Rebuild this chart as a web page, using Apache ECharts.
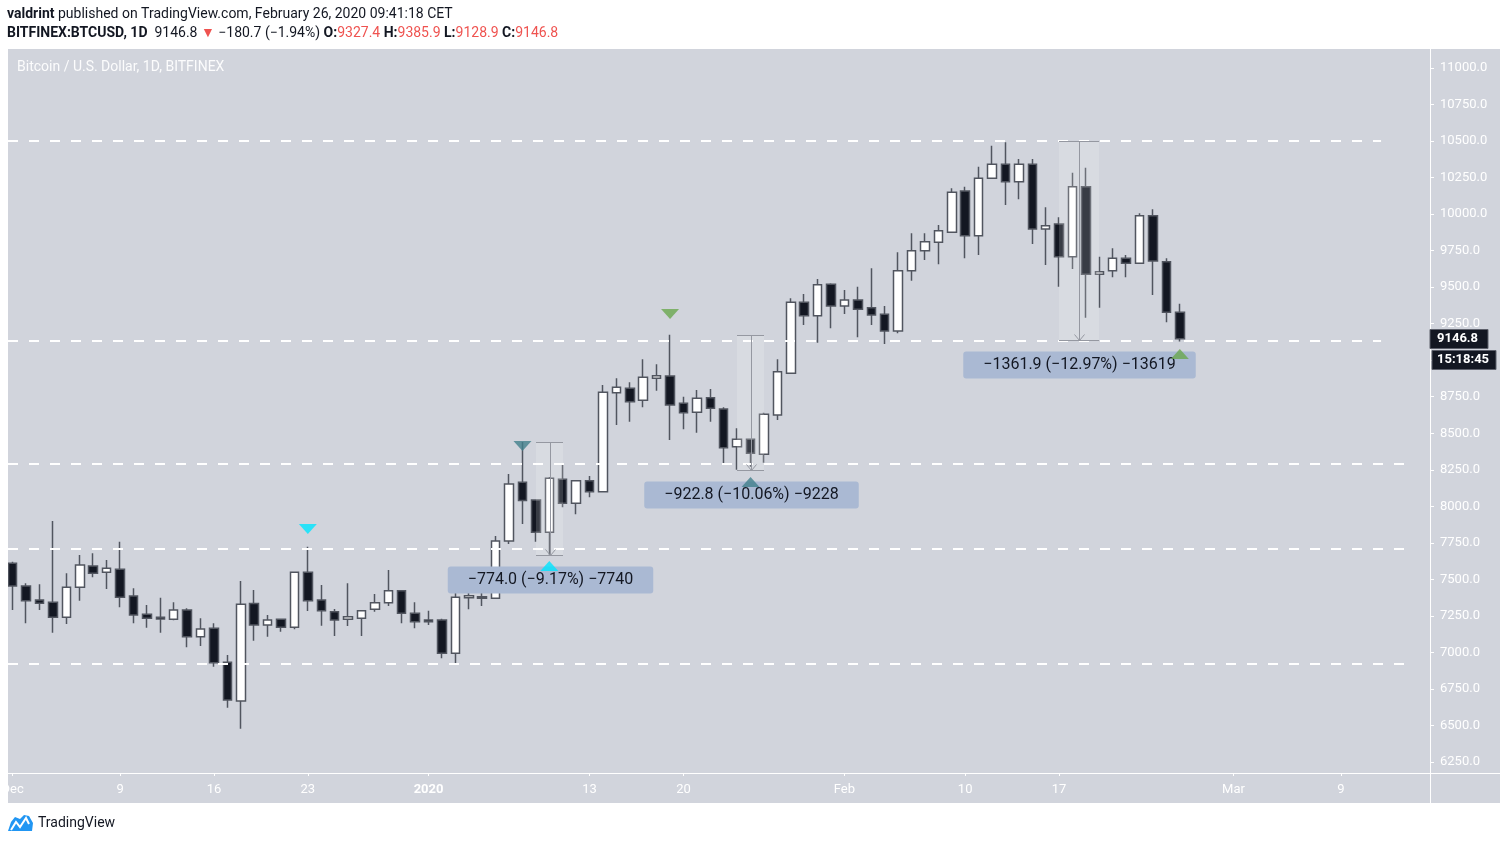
<!DOCTYPE html>
<html>
<head>
<meta charset="utf-8">
<title>BTCUSD 1D</title>
<script src="https://cdn.jsdelivr.net/npm/echarts@6/dist/echarts.min.js"></script>
<style>
  html, body { margin: 0; padding: 0; background: #ffffff; }
  #chart { width: 1508px; height: 844px; }
</style>
</head>
<body>
<div id="chart"></div>
<script>
// BITFINEX:BTCUSD daily candles, 1 Dec 2019 .. 26 Feb 2020
const startDay = Date.UTC(2019, 11, 1);
const axisDays = 106; // time scale runs on past the last candle

const opens = [
  7610, 7455, 7359, 7343, 7240, 7446, 7592, 7548, 7569, 7386, 7261, 7240, 7227, 7290, 7108, 7165,
  6932, 6668, 7334, 7188, 7227, 7172, 7548, 7359, 7279, 7227, 7234, 7295, 7340, 7422, 7268,
  7222, 7222, 6994, 7375, 7381, 7370, 7763, 8164, 8043, 7822, 8185, 8021, 8175, 8100, 8778, 8808,
  8726, 8876, 8892, 8705, 8644, 8743, 8666, 8408, 8459, 8356, 8625, 8910, 9396, 9305, 9520,
  9371, 9412, 9359, 9314, 9200, 9613, 9750, 9807, 9876, 10158, 9852, 10245, 10341, 10222, 10341,
  9898, 9932, 9708, 10188, 9588, 9613, 9698, 9663, 9989, 9674, 9327.4
];
const highs = [
  7620, 7473, 7466, 7900, 7542, 7667, 7678, 7633, 7758, 7439, 7325, 7375, 7343, 7302, 7234, 7199,
  6982, 7489, 7427, 7256, 7232, 7552, 7724, 7461, 7297, 7473, 7290, 7400, 7564, 7425, 7343,
  7286, 7230, 7450, 7427, 7507, 7797, 8221, 8440, 8045, 8200, 8283, 8180, 8208, 8830, 8876, 8849,
  9006, 8972, 9174, 8750, 8796, 8803, 8678, 8534, 8462, 8641, 9006, 9424, 9453, 9556, 9526,
  9481, 9503, 9629, 9371, 9739, 9869, 9869, 9925, 10177, 10188, 10324, 10468, 10491, 10377, 10377,
  10047, 9978, 10283, 10318, 9708, 9766, 9720, 10005, 10033, 9698, 9385.9
];
const lows = [
  7290, 7199, 7290, 7135, 7195, 7354, 7514, 7434, 7309, 7199, 7169, 7135, 7220, 7035, 7044, 6902,
  6622, 6478, 7080, 7108, 7142, 7158, 7284, 7183, 7112, 7181, 7112, 7279, 7318, 7199, 7165,
  7188, 6960, 6914, 7295, 7318, 7368, 7742, 7879, 7758, 7666, 7993, 7945, 8062, 8100, 8557, 8579,
  8678, 8791, 8454, 8527, 8504, 8579, 8294, 8251, 8271, 8299, 8591, 8905, 9241, 9120, 9218,
  9316, 9157, 9241, 9111, 9184, 9544, 9686, 9656, 9870, 9698, 9720, 10240, 10062, 10101, 9795,
  9652, 9503, 9624, 9291, 9359, 9567, 9567, 9660, 9446, 9260, 9128.9
];
const closes = [
  7455, 7354, 7336, 7240, 7446, 7598, 7542, 7576, 7377, 7256, 7234, 7229, 7290, 7108, 7160, 6930,
  6674, 7329, 7188, 7222, 7172, 7548, 7354, 7286, 7222, 7245, 7286, 7340, 7422, 7268, 7210,
  7210, 6994, 7377, 7388, 7370, 7763, 8153, 8039, 7822, 8192, 8021, 8175, 8100, 8780, 8815, 8716,
  8883, 8894, 8693, 8641, 8739, 8671, 8401, 8459, 8363, 8630, 8921, 9396, 9305, 9517, 9371,
  9412, 9348, 9310, 9200, 9613, 9750, 9811, 9886, 10149, 9852, 10245, 10341, 10222, 10341, 9898,
  9921, 9708, 10188, 9588, 9606, 9698, 9663, 9989, 9679, 9327.5, 9146.8
];

// time scale labels
const tickDates = ['2019-12-01', '2019-12-09', '2019-12-16', '2019-12-23', '2020-01-01', '2020-01-13',
  '2020-01-20', '2020-02-01', '2020-02-10', '2020-02-17', '2020-03-01', '2020-03-09'];
const tickLabels = ['Dec', '9', '16', '23', '2020', '13', '20', 'Feb', '10', '17', 'Mar', '9'];
const priceTicks = [6250, 6500, 6750, 7000, 7250, 7500, 7750, 8000, 8250, 8500, 8750, 9000,
  9250, 9500, 9750, 10000, 10250, 10500, 10750, 11000];

// dashed horizontal levels and the day each one stops at
const levelPrices = [10500, 9130, 8287, 7708, 6921];
const levelEnds = ['2020-03-12', '2020-03-12', '2020-03-14', '2020-03-14', '2020-03-14'];

// price range tools
const rangeFrom = ['2020-01-09', '2020-01-24', '2020-02-17'];
const rangeTo = ['2020-01-11', '2020-01-26', '2020-02-20'];
const rangeTop = [8440, 9174, 10500];
const rangeBottom = [7666, 8251.2, 9138.1];

// arrow markers
const markerDates = ['2019-12-23', '2020-01-08', '2020-01-19', '2020-01-10', '2020-01-25', '2020-02-26'];
const markerPrices = [7845, 8413, 9316, 7592, 8166, 9043];
const markerDown = [true, true, true, false, false, false];
const markerColors = ['#00e5ff', '#41808c', '#6aa84f', '#00e5ff', '#41808c', '#6aa84f'];

const FONT = 'Roboto, "Noto Sans", sans-serif';
const MINUS = '\u2212';

const days = [];
for (let i = 0; i < axisDays; i++) {
  days.push(new Date(startDay + i * 86400000).toISOString().slice(0, 10));
}
const dayIndex = (d) => days.indexOf(d);

const candles = opens.map((o, i) => [o, closes[i], lows[i], highs[i]]);

const chart = echarts.init(document.getElementById('chart'), null, { renderer: 'canvas' });

chart.setOption({
  animation: false,
  backgroundColor: '#ffffff',
  grid: { left: 6, right: 80, top: 31.47, bottom: 45.47, outerBoundsMode: 'none' },
  xAxis: {
    type: 'category',
    data: days,
    boundaryGap: true,
    offset: -25.5,
    axisLine: { show: false },
    axisTick: {
      show: true, alignWithLabel: true, length: 3,
      interval: (i, v) => tickDates.includes(v),
      lineStyle: { color: '#ffffff' }
    },
    axisLabel: {
      interval: (i, v) => tickDates.includes(v),
      formatter: (v) => {
        const s = tickLabels[tickDates.indexOf(v)];
        return s === '2020' ? '{b|2020}' : s;
      },
      color: '#ffffff', fontSize: 13, fontFamily: FONT, margin: 10,
      rich: { b: { fontWeight: 'bold', color: '#ffffff', fontSize: 13, fontFamily: FONT } }
    },
    splitLine: { show: false }
  },
  yAxis: {
    type: 'value',
    position: 'right',
    offset: 2,
    min: 6000,
    max: 11250,
    axisLine: { show: false },
    axisTick: { show: true, length: 4, customValues: priceTicks, lineStyle: { color: '#ffffff' } },
    axisLabel: {
      customValues: priceTicks,
      formatter: (v) => v.toFixed(1),
      color: '#ffffff', fontSize: 13, fontFamily: FONT, margin: 10
    },
    splitLine: { show: false }
  },
  series: [
    {
      type: 'candlestick',
      data: candles,
      barWidth: 9,
      z: 3,
      itemStyle: {
        color: '#ffffff',
        color0: '#131722',
        borderColor: '#51555f',
        borderColor0: '#51555f',
        borderWidth: 1.5
      }
    },
    {
      // dashed horizontal levels
      type: 'custom',
      z: 4,
      silent: true,
      data: levelPrices.map((p, i) => [dayIndex(levelEnds[i]), p]),
      encode: { x: 0, y: 1 },
      renderItem: (params, api) => {
        const p = api.coord([api.value(0), api.value(1)]);
        const y = Math.round(p[1]);
        return {
          type: 'line',
          shape: { x1: params.coordSys.x + 2, y1: y, x2: p[0], y2: y },
          style: { stroke: '#ffffff', lineWidth: 2, lineDash: [10, 11] }
        };
      }
    },
    {
      // price range measurements
      type: 'custom',
      z: 5,
      silent: true,
      clip: false,
      data: rangeTop.map((t, i) => [dayIndex(rangeFrom[i]), dayIndex(rangeTo[i]), t, rangeBottom[i]]),
      encode: { x: [0, 1], y: [2, 3] },
      renderItem: (params, api) => {
        const top = api.value(2), bottom = api.value(3);
        const a = api.coord([api.value(0), top]);
        const b = api.coord([api.value(1), bottom]);
        const x0 = Math.round(a[0]), x1 = Math.round(b[0]);
        const y0 = Math.round(a[1]) + 0.5, y1 = Math.round(b[1]) + 0.5;
        const xm = Math.round((x0 + x1) / 2) + 0.5;
        const diff = top - bottom;
        const label = MINUS + diff.toFixed(1) + ' (' + MINUS + (diff / top * 100).toFixed(2) + '%) ' +
          MINUS + Math.round(diff * 10);
        const grey = '#9598a1';
        return {
          type: 'group',
          children: [
            { type: 'rect', shape: { x: x0, y: y0, width: x1 - x0, height: y1 - y0 },
              style: { fill: 'rgba(255,255,255,0.16)' } },
            { type: 'line', shape: { x1: x0, y1: y0, x2: x1, y2: y0 }, style: { stroke: grey, lineWidth: 1 } },
            { type: 'line', shape: { x1: x0, y1: y1, x2: x1, y2: y1 }, style: { stroke: grey, lineWidth: 1 } },
            { type: 'line', shape: { x1: xm, y1: y0, x2: xm, y2: y1 }, style: { stroke: grey, lineWidth: 1 } },
            { type: 'polyline', shape: { points: [[xm - 5, y1 - 6], [xm, y1], [xm + 5, y1 - 6]] },
              style: { stroke: grey, lineWidth: 1, fill: null } },
            { type: 'text', x: xm, y: y1 + 11,
              style: {
                text: label, align: 'center', verticalAlign: 'top',
                font: '16px ' + FONT, fill: '#131722',
                backgroundColor: '#aab9d3', padding: [5, 20, 5, 20], borderRadius: 3, lineHeight: 17
              } }
          ]
        };
      }
    },
    {
      type: 'scatter',
      z: 6,
      silent: true,
      symbol: 'triangle',
      symbolSize: [18, 10],
      data: markerDates.map((d, i) => ({
        value: [d, markerPrices[i]],
        symbolRotate: markerDown[i] ? 180 : 0,
        itemStyle: { color: markerColors[i] }
      }))
    }
  ]
});

// chrome around the chart
const last = closes.length - 1;
const change = closes[last] - closes[last - 1];
const lastY = chart.convertToPixel({ yAxisIndex: 0 }, closes[last]);
const fmt = (v) => v.toFixed(1);
const red = '#ef5350';

chart.setOption({
  graphic: [
    { type: 'rect', z: -10, silent: true, shape: { x: 8, y: 49, width: 1492, height: 754 },
      style: { fill: '#d1d4dc' } },
    { type: 'line', z: 50, silent: true, shape: { x1: 1430.5, y1: 49, x2: 1430.5, y2: 803 },
      style: { stroke: '#ffffff', lineWidth: 1 } },
    { type: 'line', z: 50, silent: true, shape: { x1: 8, y1: 773.5, x2: 1500, y2: 773.5 },
      style: { stroke: '#ffffff', lineWidth: 1 } },
    { type: 'rect', z: 100, silent: true, shape: { x: 0, y: 49, width: 8, height: 760 },
      style: { fill: '#ffffff' } },
    { type: 'text', z: 50, silent: true, x: 17, y: 67,
      style: { text: 'Bitcoin / U.S. Dollar, 1D, BITFINEX', font: '14px ' + FONT,
        fill: 'rgba(255,255,255,0.92)', verticalAlign: 'middle' } },
    { type: 'text', z: 50, silent: true, x: 7, y: 14,
      style: {
        text: '{b|valdrint} published on TradingView.com, February 26, 2020 09:41:18 CET',
        font: '14px ' + FONT, fill: '#131722', verticalAlign: 'middle',
        rich: { b: { fontWeight: 'bold', fontSize: 14, fontFamily: FONT, fill: '#131722' } }
      } },
    { type: 'text', z: 50, silent: true, x: 7, y: 33,
      style: {
        text: '{b|BITFINEX:BTCUSD, 1D}  ' + fmt(closes[last]) + ' {r|\u25BC} ' + MINUS + fmt(-change) +
          ' (' + MINUS + (-change / closes[last - 1] * 100).toFixed(2) + '%) ' +
          '{b|O:}{r|' + fmt(opens[last]) + '} {b|H:}{r|' + fmt(highs[last]) + '} {b|L:}{r|' +
          fmt(lows[last]) + '} {b|C:}{r|' + fmt(closes[last]) + '}',
        font: '14px ' + FONT, fill: '#131722', verticalAlign: 'middle',
        rich: {
          b: { fontWeight: 'bold', fontSize: 14, fontFamily: FONT, fill: '#131722' },
          r: { fontSize: 14, fontFamily: FONT, fill: red }
        }
      } },
    // last price tag and countdown
    { type: 'rect', z: 60, silent: true, shape: { x: 1430, y: Math.round(lastY) - 9.5, width: 58, height: 19 },
      style: { fill: '#131722', stroke: '#5d606b', lineWidth: 1 } },
    { type: 'text', z: 61, silent: true, x: 1437, y: Math.round(lastY),
      style: { text: fmt(closes[last]), font: 'bold 13px ' + FONT, fill: '#ffffff', verticalAlign: 'middle' } },
    { type: 'rect', z: 60, silent: true, shape: { x: 1432, y: Math.round(lastY) + 11.5, width: 64, height: 19 },
      style: { fill: '#131722', stroke: '#5d606b', lineWidth: 1 } },
    { type: 'text', z: 61, silent: true, x: 1437, y: Math.round(lastY) + 21,
      style: { text: '15:18:45', font: 'bold 13px ' + FONT, fill: '#ffffff', verticalAlign: 'middle' } },
    // footer
    { type: 'polygon', z: 50, silent: true,
      shape: { points: [[8, 831], [11, 822], [15, 817], [20, 819], [24, 815], [29, 816], [33, 823], [32, 831]] },
      style: { fill: '#2196f3' } },
    { type: 'polyline', z: 51, silent: true,
      shape: { points: [[11, 830], [16, 822], [20, 827], [26, 818], [29, 824]] },
      style: { stroke: '#ffffff', lineWidth: 2, fill: null } },
    { type: 'text', z: 50, silent: true, x: 38, y: 823,
      style: { text: 'TradingView', font: '14px ' + FONT, fill: '#131722', verticalAlign: 'middle' } }
  ]
});
</script>
</body>
</html>
